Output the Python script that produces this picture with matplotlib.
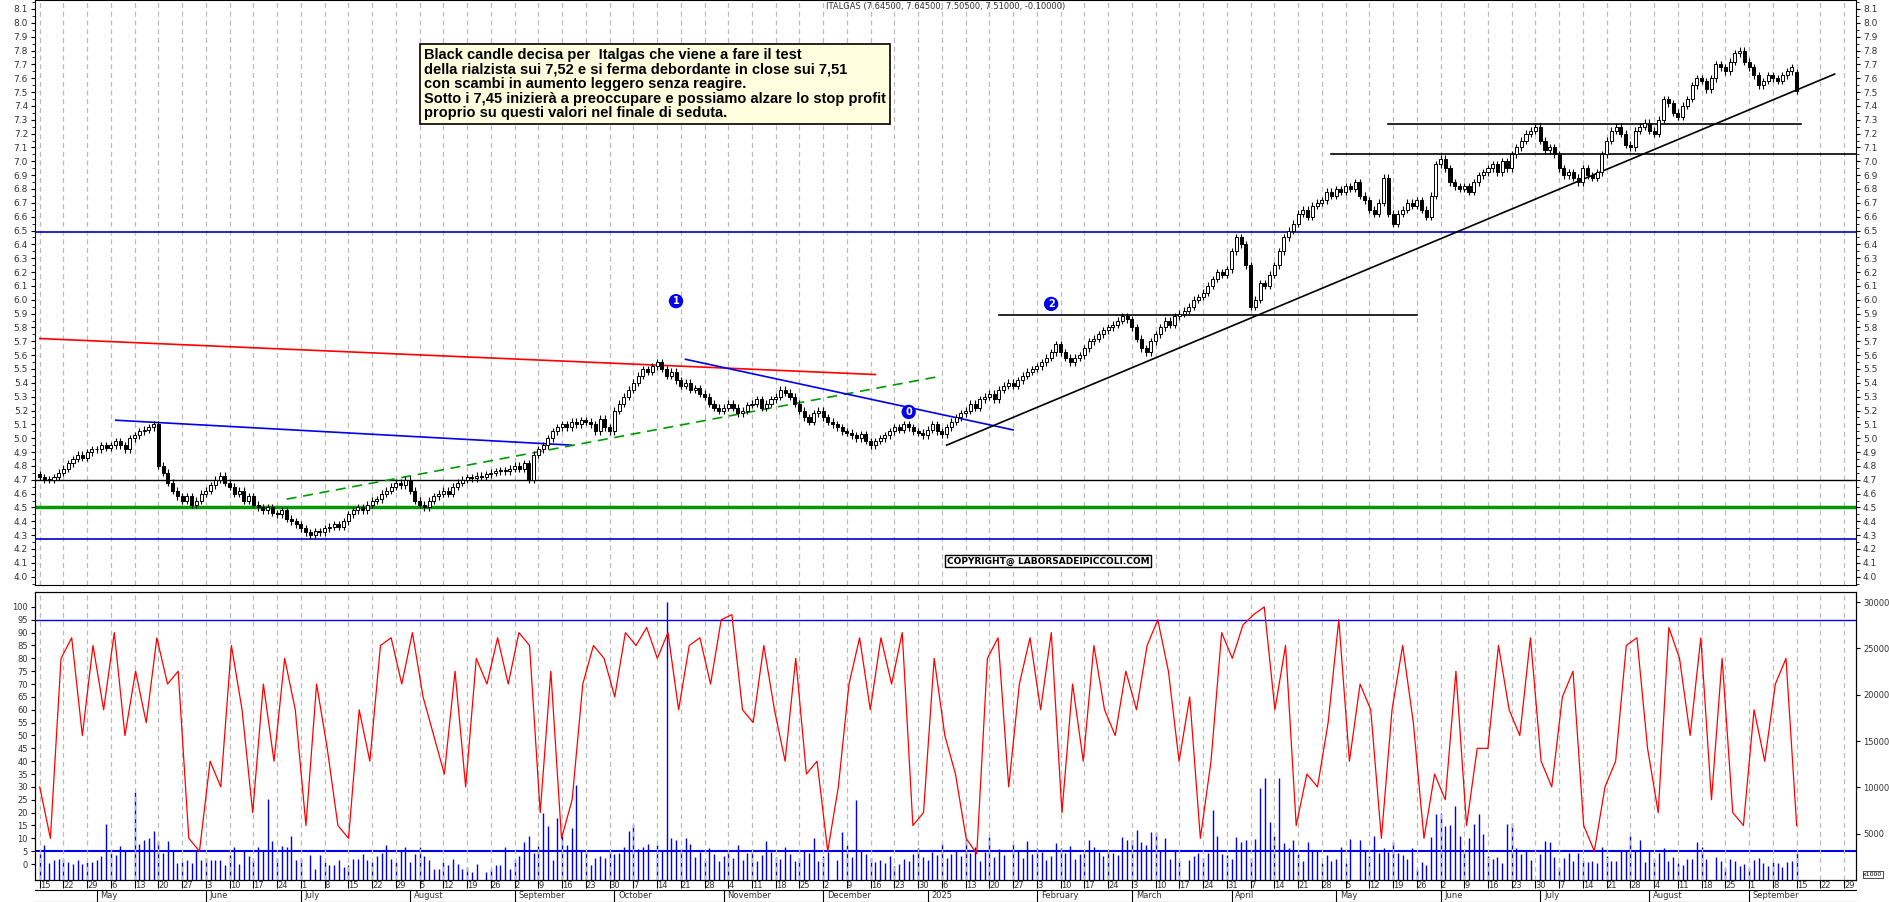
import numpy as np
import pandas as pd
import matplotlib
matplotlib.use("Agg")
import matplotlib.pyplot as plt

# ---------------- DATA ----------------
start_date = "2024-04-15"
closes = [
 4.72,4.70,4.70,4.72,4.75, 4.78,4.82,4.85,4.88,4.86, 4.90,4.92,4.92,4.95,4.93, 4.95,4.98,4.95,4.92,5.00,
 5.02,5.05,5.06,5.08,5.10, 4.80,4.75,4.68,4.62,4.58, 4.55,4.58,4.52,4.55,4.60, 4.62,4.66,4.70,4.73,4.68,
 4.65,4.60,4.62,4.55,4.58, 4.52,4.50,4.48,4.50,4.46, 4.45,4.48,4.42,4.40,4.38, 4.35,4.32,4.30,4.33,4.32,
 4.35,4.36,4.38,4.36,4.40, 4.45,4.48,4.50,4.48,4.52, 4.55,4.56,4.60,4.62,4.65, 4.68,4.66,4.70,4.62,4.55,
 4.52,4.50,4.55,4.58,4.60, 4.62,4.60,4.65,4.68,4.70, 4.72,4.71,4.73,4.72,4.74, 4.75,4.76,4.77,4.76,4.78,
 4.80,4.78,4.82,4.70,4.88, 4.92,4.95,5.00,5.05,5.08, 5.10,5.08,5.12,5.10,5.13, 5.12,5.10,5.05,5.14,5.08,
 5.05,5.20,5.25,5.30,5.35, 5.40,5.45,5.50,5.48,5.52, 5.55,5.50,5.45,5.48,5.42, 5.38,5.40,5.35,5.36,5.32,
 5.30,5.25,5.22,5.20,5.22, 5.25,5.22,5.18,5.20,5.24, 5.25,5.28,5.22,5.25,5.28, 5.30,5.35,5.33,5.30,5.25,
 5.20,5.15,5.12,5.18,5.20, 5.15,5.12,5.10,5.08,5.05, 5.04,5.02,5.00,5.03,4.98, 4.95,4.98,5.00,5.02,5.05,
 5.08,5.06,5.10,5.08,5.05, 5.04,5.02,5.06,5.10,5.05, 5.03,5.08,5.12,5.15,5.18, 5.20,5.25,5.22,5.28,5.30,
 5.32,5.28,5.35,5.38,5.40, 5.38,5.42,5.45,5.48,5.50, 5.52,5.55,5.58,5.62,5.68, 5.62,5.58,5.55,5.58,5.60,
 5.65,5.70,5.72,5.75,5.78, 5.80,5.82,5.85,5.88,5.86, 5.80,5.72,5.65,5.62,5.70, 5.75,5.80,5.85,5.82,5.88,
 5.90,5.92,5.95,6.00,6.02, 6.05,6.10,6.15,6.20,6.18, 6.22,6.35,6.45,6.40,6.25, 5.95,6.00,6.12,6.10,6.18,
 6.25,6.35,6.45,6.50,6.55, 6.62,6.65,6.60,6.68,6.70, 6.72,6.78,6.75,6.80,6.78, 6.82,6.80,6.85,6.75,6.72,
 6.65,6.62,6.70,6.88,6.62, 6.55,6.62,6.65,6.70,6.68, 6.72,6.65,6.60,6.75,6.98, 7.02,6.95,6.85,6.82,6.80,
 6.82,6.78,6.85,6.90,6.92, 6.95,6.98,6.92,7.00,6.95, 7.05,7.10,7.15,7.20,7.22, 7.25,7.15,7.08,7.10,7.05,
 6.95,6.90,6.92,6.88,6.85, 6.95,6.90,6.88,6.92,7.05, 7.15,7.22,7.25,7.20,7.12, 7.10,7.22,7.25,7.28,7.22,
 7.20,7.30,7.45,7.42,7.35, 7.32,7.40,7.45,7.55,7.60, 7.58,7.52,7.60,7.70,7.68, 7.65,7.72,7.78,7.80,7.72,
 7.68,7.62,7.55,7.58,7.62, 7.60,7.58,7.62,7.65,7.68, 7.51]
first_open = 4.74
last_open = 7.645

vol_left_units = [4,7.5,0.5,1.5,2,2,1,0,1.5,0,1,1,1.5,3,15.5,4.5,3.5,7,5,28,8,9.5,10,13,9,4.5,9,5.5,0.5,1,
 1.5,0.5,5,1.5,2.5,1.5,1.5,1.5,-0.5,3.5,6.5,0,5,3,1.5,6.5,5,25.5,9,2.5,7,6.5,11,1.5,2.5,3.5,-2,3.5,1,-0.5,
 -0.5,1.5,-1,-0.5,2,2,4,1.5,1,3,4.5,7.5,2,1,5,6.5,1,4,6.5,3,1.5,-2,-2,1,-0.5,2,0,-2,-1,-3,0,-3,-2,-0.5,-0.5,
 6.5,-2,2,3,8.5,11,4.5,7,20,15,1.5,18,11,7.5,14,31,5.5,5,-0.5,2.5,3,2.5,6,4,4.5,6.5,13,15.5,6,6.5,8,7.5,5.5,
 102,10,9.5,6,10,8]
vol_mid_k = [2.5,3.0,2.2,3.5,2.8,2.0,2.6,3.1,2.4,3.8,2.2,2.9,3.3,2.1,2.7,4.2,3.0,2.5,2.3,3.6,2.8,2.0,2.4,3.2,
 2.9,4.5,2.1,2.6,3.0,2.2,5.2,3.8,2.5,8.6,3.2,2.8,2.4,1.9,2.2,1.8,2.6,1.5,1.7,2.3,2.0,2.8,3.4,2.5,2.2,3.0,2.7,
 3.9,2.4,2.8,3.2,2.6,4.4,2.9,3.6,2.1,3.0,4.6,2.5,3.3,2.7,3.9,3.1,2.4,4.2,2.8,3.5,3.0,2.2,2.6,4.0,3.4,2.9,3.7,
 2.3,2.8,3.1,4.3,3.6,3.0,2.6,3.3,2.9]
vol_late_k = [2.7,4.6,4.3,4.3,5.4,4.1,3.8,5.2,5.2,3.2,4.5,2.3,3.2,2.1,2.2,2.6,2.9,2.4,2.9,7.6,4.8,2.8,2.7,2.3,
 4.6,4.1,4.3,2.4,4.4,9.9,11,6.3,4.8,11,4.0,3.5,4.3,2.8,2.1,4.1,3.2,3.2,1.8,2.7,2.1,2.3,3.6,1.8,4.4,4.3,3.2,
 2.6,4.7,2.9,3.5,3.0,4.1,2.9,2.7,2.3,3.4,1.2,1.9,1.6,4.6,7.1,7.2,5.8,5.9,8.0,4.8,3.0,4.5,6.0,7.1,5.0,2.6,2.3,
 2.5,1.8,6.0,6.2,3.4,2.8,3.2,2.2,2.8,4.2,4.1,2.5,1.3,2.4,2.9,2.1,2.9,2.0,1.9,2.1,1.8,3.6,2.6,2.1,2.1,3.2,3.2,
 4.8,3.1,4.3,1.9,3.1,2.3,2.9,3.4,2.0,2.5,1.8,1.6,2.3,2.3,4.1,3.6,2.3,2.5,2.1,1.3,2.3,2.1,1.5,1.7,1.3,2.2,2.4,
 1.8,1.5,1.9,1.8,1.4,1.9,2.0,2.9]

oscillator = [30,10,80,88,50,85,60,90,50,75,55,88,70,75,10,5,40,30,85,60,20,70,40,80,60,15,70,45,15,10,60,40,
 85,88,70,90,65,50,35,75,30,80,70,88,70,90,85,20,75,10,25,70,85,80,65,90,85,92,80,90,60,85,88,70,95,97,60,55,
 85,60,40,80,35,40,5,30,70,88,60,88,70,90,15,20,80,50,35,10,4,80,88,30,70,88,60,90,20,70,40,85,60,50,75,60,85,
 95,75,40,65,10,40,90,80,93,97,100,60,85,15,35,30,55,95,40,70,60,10,60,85,55,10,35,25,75,15,45,45,85,60,50,88,
 40,30,65,75,15,5,30,40,85,88,45,20,92,80,50,88,25,80,20,15,60,40,70,80,15]

hlines_full = [(6.49, "#0000cc", 1.2), (4.70, "black", 1.0), (4.50, "#009900", 2.5), (4.27, "#0000cc", 1.2)]
trendlines = [
 (0, 5.72, 176, 5.46, "red", "-"),
 (16, 5.13, 112, 4.95, "#0000ee", "-"),
 (52, 4.56, 190, 5.45, "#009900", (0, (6, 4))),
 (136, 5.57, 205, 5.06, "#0000ee", "-"),
 (191, 4.95, 378, 7.63, "black", "-"),
 (202, 5.89, 290, 5.89, "black", "-"),
 (272, 7.05, 384, 7.05, "black", "-"),
 (284, 7.27, 371, 7.27, "black", "-"),
]
markers = [(134, 5.99, "1"), (213, 5.97, "2"), (183, 5.19, "0")]

note = ("Black candle decisa per  Italgas che viene a fare il test\n"
        "della rialzista sui 7,52 e si ferma debordante in close sui 7,51\n"
        "con scambi in aumento leggero senza reagire.\n"
        "Sotto i 7,45 inizierà a preoccupare e possiamo alzare lo stop profit\n"
        "proprio su questi valori nel finale di seduta.")
title = "ITALGAS (7.64500, 7.64500, 7.50500, 7.51000, -0.10000)"

# ---------------- PLOT ----------------
n = len(closes)
closes = np.array(closes)
opens = np.concatenate([[first_open], closes[:-1]])
opens[-1] = last_open
dates = pd.bdate_range(start_date, periods=n + 12)
idx = np.arange(n)

W, H = 1890, 902
fig = plt.figure(figsize=(W / 100, H / 100), dpi=100)
fig.patch.set_facecolor("white")
L, R = 35 / W, 1856 / W
axp = fig.add_axes([L, 1 - 585 / H, R - L, 585 / H])
axv = fig.add_axes([L, 1 - 880 / H, R - L, (880 - 592) / H])
xlim = (-1, 382.5)
for a in (axp, axv):
    a.set_xlim(*xlim)
    a.set_facecolor("white")

mondays = [i for i, d in enumerate(dates) if d.weekday() == 0]
for a in (axp, axv):
    for m in mondays:
        a.axvline(m, color="#bbbbbb", ls=(0, (4, 3)), lw=0.9, zorder=0)

axp.set_ylim(3.94, 8.165)
for y, c, lw in hlines_full:
    axp.axhline(y, color=c, lw=lw, zorder=1)
for x0, y0, x1, y1, c, ls in trendlines:
    axp.plot([x0, x1], [y0, y1], color=c, ls=ls, lw=1.2, zorder=2)
wick = 0.025
for i in idx:
    o, c = opens[i], closes[i]
    lo, hi = min(o, c), max(o, c)
    axp.vlines(i, lo - wick, hi + wick, color="black", lw=0.8, zorder=3)
    h = max(hi - lo, 0.004)
    axp.add_patch(plt.Rectangle((i - 0.32, lo), 0.64, h,
                  facecolor="white" if c >= o else "black", edgecolor="black", lw=0.7, zorder=4))
for x, y, t in markers:
    axp.text(x, y, t, ha="center", va="center", fontsize=7, color="white", fontweight="bold",
             bbox=dict(boxstyle="circle,pad=0.15", fc="#0000ee", ec="#0000ee"), zorder=6)

pt = np.round(np.arange(4.0, 8.11, 0.1), 1)
axp.set_yticks(pt)
axp.set_yticklabels([f"{v:.1f}" for v in pt], fontsize=6.5, color="#333333")
axp.yaxis.set_minor_locator(matplotlib.ticker.MultipleLocator(0.05))
axp.tick_params(axis="y", which="both", left=True, right=True, labelleft=True, labelright=True,
                length=3, pad=2)
axp.tick_params(axis="y", which="minor", length=2)
axp.set_xticks([])
axp.text(0.5, 1 - 7 / 585, title, transform=axp.transAxes, ha="center", va="center", fontsize=6, color="#333333")
axp.text((424 - 35) / (1856 - 35), 1 - 48 / 585, note, transform=axp.transAxes, ha="left", va="top",
         fontsize=10.5, fontweight="bold", family="Liberation Sans", linespacing=1.05,
         bbox=dict(boxstyle="square,pad=0.25", fc="#ffffe0", ec="black", lw=1.2), zorder=7)
axp.text((1048 - 35) / (1856 - 35), 1 - 561 / 585, "COPYRIGHT@ LABORSADEIPICCOLI.COM", transform=axp.transAxes,
         ha="center", va="center", fontsize=6.5, fontweight="bold",
         bbox=dict(boxstyle="square,pad=0.2", fc="white", ec="black", lw=1), zorder=7)

vol_k = np.concatenate([(np.array(vol_left_units) + 6.2) * 0.277, vol_mid_k, vol_late_k]) * 1000
vpos = np.round(np.linspace(0, n - 1, len(vol_k)))
axv.set_ylim(-6.2, 105.8)
axvr = axv.twinx()
axvr.set_ylim(0, 31080)
axvr.set_xlim(*xlim)
axvr.vlines(vpos, 0, vol_k, color="#0000ee", lw=1.0)
axvr.axhline(3130, color="#0000ee", lw=1.5)
axv.axhline(95, color="#0000ee", lw=1.0)
opos = np.linspace(0, n - 1, len(oscillator))
axv.plot(opos, oscillator, color="red", lw=0.9, zorder=5)
axv.set_zorder(axvr.get_zorder() + 1)
axv.patch.set_visible(False)
lt = np.arange(0, 101, 5)
axv.set_yticks(lt)
axv.set_yticklabels([str(v) for v in lt], fontsize=6, color="#333333")
axv.tick_params(axis="y", length=3, pad=2)
rt = np.arange(5000, 30001, 5000)
axvr.set_yticks(rt)
axvr.set_yticklabels([str(v) for v in rt], fontsize=6, color="#333333")
axvr.tick_params(axis="y", length=3, pad=2)
axvr.text(1.004, 0.01, "x1000", transform=axvr.transAxes, fontsize=4.5, va="bottom",
          bbox=dict(boxstyle="square,pad=0.1", fc="white", ec="black", lw=0.5))

axv.set_xticks(mondays)
axv.set_xticklabels([str(dates[m].day) for m in mondays], fontsize=6, ha="left", color="#333333")
axv.tick_params(axis="x", length=6, pad=-5, direction="out")
month_starts = [i for i in range(1, len(dates)) if dates[i].month != dates[i - 1].month and i < xlim[1] - 8]
for m in month_starts:
    d = dates[m]
    lab = "2025" if (d.month == 1) else d.strftime("%B")
    axv.text(m + 0.8, -0.055, lab, transform=axv.get_xaxis_transform(), fontsize=6, ha="left", va="center",
             color="#333333", clip_on=False)
    axv.plot([m, m], [-0.035, -0.075], transform=axv.get_xaxis_transform(), color="black", lw=0.8, clip_on=False)
axv.plot([0, 1], [-0.035, -0.035], transform=axv.transAxes, color="black", lw=0.8, clip_on=False)
axv.plot([0, 1], [-0.075, -0.075], transform=axv.transAxes, color="black", lw=0.8, clip_on=False)

fig.savefig("out.png", dpi=100)
